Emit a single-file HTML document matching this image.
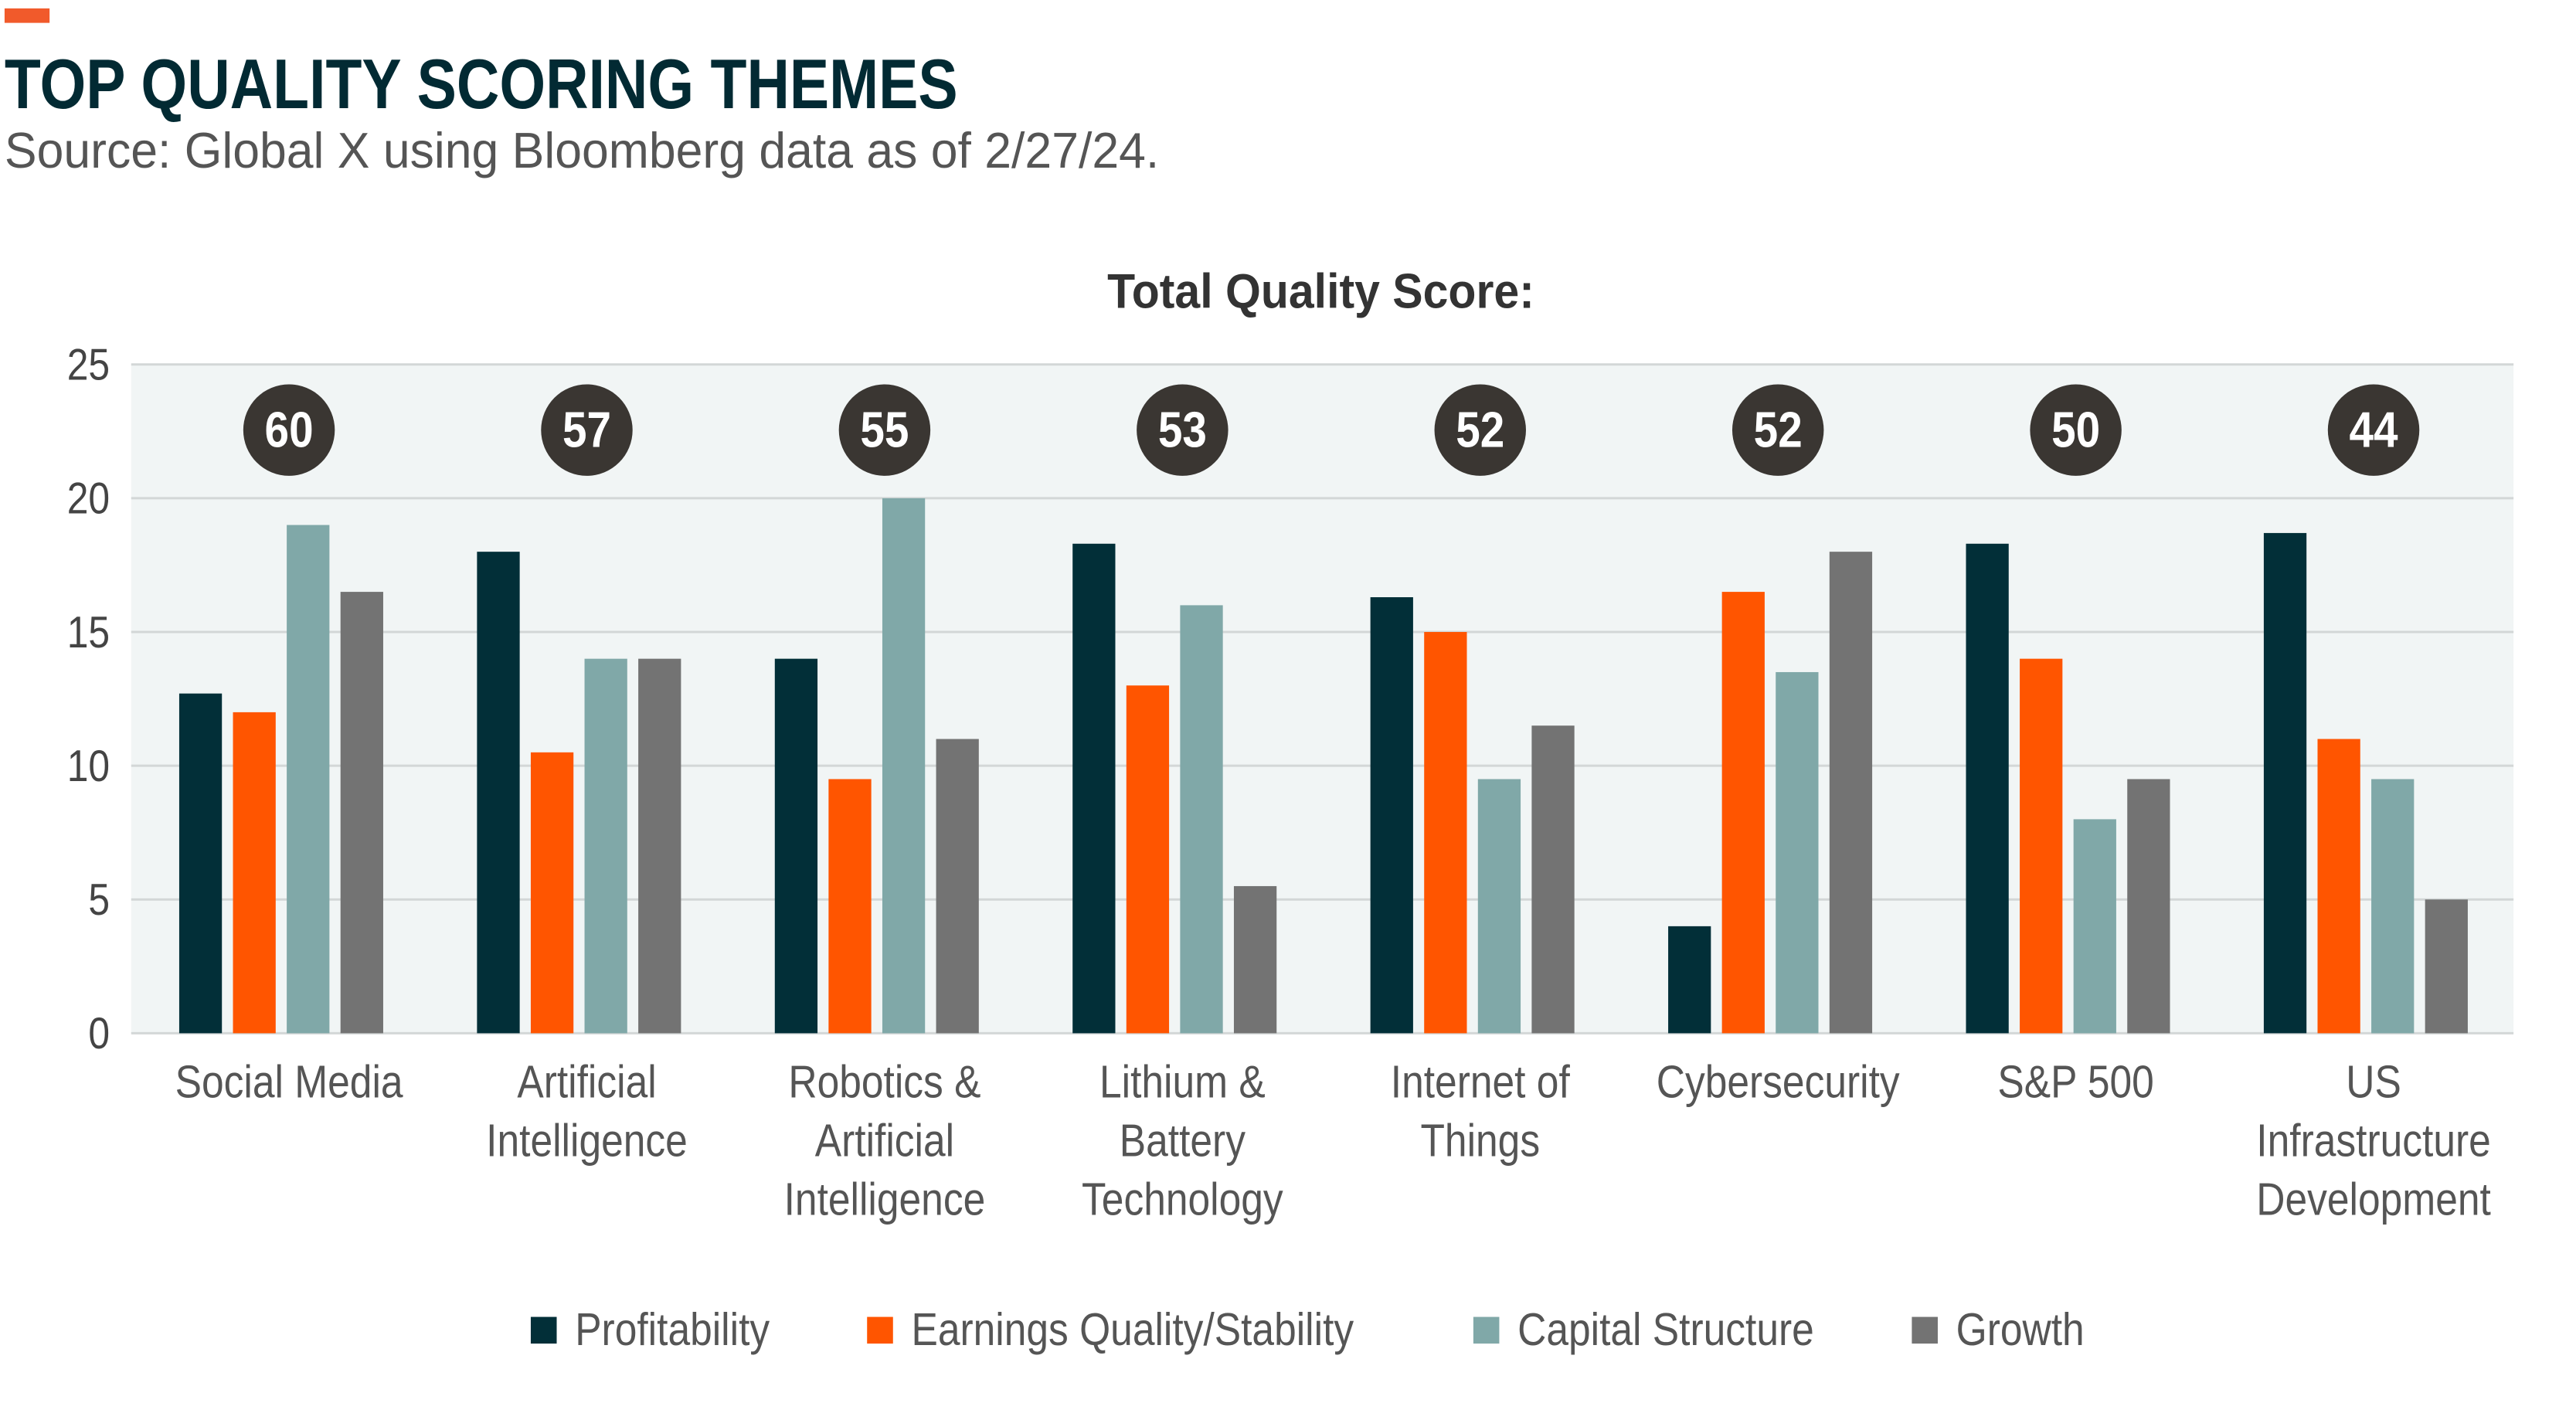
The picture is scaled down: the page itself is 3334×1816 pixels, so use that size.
<!DOCTYPE html>
<html><head><meta charset="utf-8"><style>
html,body{margin:0;padding:0;background:#fff;}
svg{display:block;font-family:"Liberation Sans Narrow","Liberation Sans",sans-serif;}
</style></head><body>
<svg id="chart" width="3334" height="1816" viewBox="0 0 3334 1816" xmlns="http://www.w3.org/2000/svg">
<g transform="scale(0.987)">
<rect x="6" y="11" width="59" height="19" fill="#f15a2b"/>
<text x="6" y="142" font-size="92" font-weight="bold" fill="#022a33" textLength="1250" lengthAdjust="spacingAndGlyphs">TOP QUALITY SCORING THEMES</text>
<text x="6" y="220" font-size="66" fill="#555" textLength="1514" lengthAdjust="spacingAndGlyphs">Source: Global X using Bloomberg data as of 2/27/24.</text>
<text x="1732" y="404" font-size="64" font-weight="bold" fill="#333" text-anchor="middle" textLength="560" lengthAdjust="spacingAndGlyphs">Total Quality Score:</text>
<g id="plot"></g>
<g id="legend"></g>
</g>
</svg>
<script>
const categories = [["Social Media"],["Artificial","Intelligence"],["Robotics &","Artificial","Intelligence"],["Lithium &","Battery","Technology"],["Internet of","Things"],["Cybersecurity"],["S&P 500"],["US","Infrastructure","Development"]];
const profitability = [12.7,18,14,18.3,16.3,4,18.3,18.7];
const earnings = [12,10.5,9.5,13,15,16.5,14,11];
const capital = [19,14,20,16,9.5,13.5,8,9.5];
const growth = [16.5,14,11,5.5,11.5,18,9.5,5];
const totalScores = [60,57,55,53,52,52,50,44];
const yTicks = [0,5,10,15,20,25];
const seriesNames = ["Profitability","Earnings Quality/Stability","Capital Structure","Growth"];

const NS="http://www.w3.org/2000/svg";
const colors=["#022f38","#ff5500","#80a8a8","#737373"];
const L=172,R=3296,Y0=1355,Y25=478;
const y=v=>Y0-(v/25)*(Y0-Y25);
const gw=(R-L)/categories.length;
const gx=i=>L+gw*i;
const SX=0.87;
function mk(tag,attrs,parent){const e=document.createElementNS(NS,tag);for(const k in attrs)e.setAttribute(k,attrs[k]);parent.appendChild(e);return e;}
function txt(parent,px,py,attrs){attrs.x=0;attrs.y=0;attrs.transform='translate('+px+','+py+') scale('+SX+',1)';return mk('text',attrs,parent);}
const plot=document.getElementById('plot');
const bg=mk('rect',{x:L,y:Y25,width:R-L,height:Y0-Y25,fill:'#f1f5f5'},plot);


yTicks.forEach(t=>{
  const ln=mk('line',{x1:L,x2:R,y1:y(t),y2:y(t),stroke:'#d3d7d7','stroke-width':3},plot);
  
  
  const tx=txt(plot,144,y(t)+20,{'font-size':58,fill:'#444','text-anchor':'end'});
  tx.textContent=t;
  
  
});
const series=[profitability,earnings,capital,growth];
const keys=['profitability','earnings','capital','growth'];
categories.forEach((c,i)=>{
  series.forEach((s,j)=>{
    const b=mk('rect',{x:gx(i)+63+70.5*j,y:y(s[i]),width:56,height:Y0-y(s[i]),fill:colors[j]},plot);
    
    
  });
  const cx=gx(i)+207;
  const ci=mk('circle',{cx:cx,cy:564,r:60,fill:'#3a3632'},plot);
  
  
  const st=txt(plot,cx,586,{'font-size':66,'font-weight':'bold',fill:'#fff','text-anchor':'middle'});
  st.textContent=totalScores[i];
  
  
  c.forEach((line,k)=>{
    const t=txt(plot,cx,1439+77*k,{'font-size':60,fill:'#555','text-anchor':'middle'});
    t.textContent=line;
    
    
  });
});
const lg=document.getElementById('legend');
const lx=[696,1137,1932,2507];
seriesNames.forEach((n,j)=>{
  const r=mk('rect',{x:lx[j],y:1727,width:34,height:35,fill:colors[j]},lg);
  
  
  const t=txt(lg,lx[j]+58,1764,{'font-size':60,fill:'#555'});
  t.textContent=n;
  
  
});
</script>
</body></html>
